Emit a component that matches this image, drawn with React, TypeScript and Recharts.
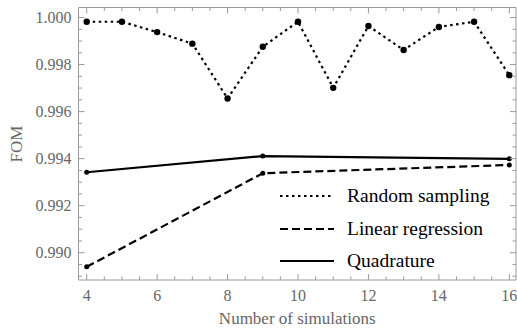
import React from 'react';
import { LineChart, Line, XAxis, YAxis, Legend, Label } from 'recharts';

// number of simulations
const simCounts = [4, 5, 6, 7, 8, 9, 10, 11, 12, 13, 14, 15, 16];
const randomSampling = [0.99982, 0.99982, 0.99938, 0.99889, 0.99656, 0.99876, 0.99982, 0.99701, 0.99964, 0.99862, 0.9996, 0.99982, 0.99755];

const gridCounts = [4, 9, 16];
const linearRegression = [0.9894, 0.99338, 0.99373];
const quadrature = [0.99342, 0.99411, 0.99399];

const xTickLabels = [4, 6, 8, 10, 12, 14, 16];
const yTickLabels = [0.99, 0.992, 0.994, 0.996, 0.998, 1.0];

const X_DOMAIN: [number, number] = [3.767, 16.19];
const Y_DOMAIN: [number, number] = [0.98884, 1.000426];

const xMinor = Array.from({ length: 25 }, (_, i) => 4 + i * 0.5);
const yMinor = Array.from({ length: 23 }, (_, i) => +(0.989 + i * 0.0005).toFixed(4));

const randomData = simCounts.map((x, i) => ({ x, y: randomSampling[i] }));
const linearData = gridCounts.map((x, i) => ({ x, y: linearRegression[i] }));
const quadData = gridCounts.map((x, i) => ({ x, y: quadrature[i] }));

const FRAME = '#9a9a9a';
const TICK_TEXT = '#666';
const FONT = '"Liberation Serif", "Times New Roman", serif';

const isMajor = (v: number, list: number[]) => list.some((m) => Math.abs(m - v) < 1e-7);

const BottomTick = (props: any) => {
  const { x, y, payload } = props;
  const major = isMajor(payload.value, xTickLabels);
  return (
    <g>
      <line x1={x} y1={y} x2={x} y2={y - (major ? 6 : 3.5)} stroke={FRAME} />
      {major && (
        <text x={x} y={y + 21} textAnchor="middle" fill={TICK_TEXT} style={{ fontFamily: FONT, fontSize: 16 }}>
          {payload.value}
        </text>
      )}
    </g>
  );
};

const TopTick = (props: any) => {
  const { x, y, payload } = props;
  const major = isMajor(payload.value, xTickLabels);
  return <line x1={x} y1={y} x2={x} y2={y + (major ? 6 : 3.5)} stroke={FRAME} />;
};

const LeftTick = (props: any) => {
  const { x, y, payload } = props;
  const major = isMajor(payload.value, yTickLabels);
  return (
    <g>
      <line x1={x} y1={y} x2={x + (major ? 6 : 3.5)} y2={y} stroke={FRAME} />
      {major && (
        <text x={x - 7} y={y + 5.5} textAnchor="end" fill={TICK_TEXT} style={{ fontFamily: FONT, fontSize: 16 }}>
          {payload.value.toFixed(3)}
        </text>
      )}
    </g>
  );
};

const RightTick = (props: any) => {
  const { x, y, payload } = props;
  const major = isMajor(payload.value, yTickLabels);
  return <line x1={x} y1={y} x2={x - (major ? 6 : 3.5)} y2={y} stroke={FRAME} />;
};

const legendRows = [
  { name: 'Random sampling', dash: '2.5 3.5' },
  { name: 'Linear regression', dash: '8 4' },
  { name: 'Quadrature', dash: undefined },
];

const renderLegend = () => (
  <div style={{ fontFamily: FONT, fontSize: 19.5, color: '#000' }}>
    {legendRows.map((r) => (
      <div key={r.name} style={{ display: 'flex', alignItems: 'center', height: 32.5 }}>
        <svg width={54} height={10} style={{ marginRight: 13 }}>
          <line x1={0} y1={5} x2={54} y2={5} stroke="#000" strokeWidth={2} strokeDasharray={r.dash} />
        </svg>
        <span>{r.name}</span>
      </div>
    ))}
  </div>
);

export default function App() {
  return (
    <div style={{ position: 'absolute', left: 0, top: 0, width: 517, height: 331, background: '#fff' }}>
      <LineChart width={517} height={331} margin={{ top: 6.5, right: 0, bottom: 50, left: 77.5 }}>
        <XAxis
          dataKey="x"
          type="number"
          domain={X_DOMAIN}
          allowDataOverflow
          ticks={xMinor}
          interval={0}
          height={1}
          tickSize={0}
          tickMargin={0}
          tickLine={false}
          axisLine={{ stroke: FRAME }}
          tick={<BottomTick />}
        >
          <Label
            value="Number of simulations"
            position="bottom"
            offset={31}
            fill={TICK_TEXT}
            style={{ fontFamily: FONT, fontSize: 17 }}
          />
        </XAxis>
        <XAxis
          xAxisId="top"
          orientation="top"
          dataKey="x"
          type="number"
          domain={X_DOMAIN}
          allowDataOverflow
          ticks={xMinor}
          interval={0}
          height={1}
          tickSize={0}
          tickMargin={0}
          tickLine={false}
          axisLine={{ stroke: FRAME }}
          tick={<TopTick />}
        />
        <YAxis
          type="number"
          domain={Y_DOMAIN}
          allowDataOverflow
          ticks={yMinor}
          interval={0}
          width={1}
          tickSize={0}
          tickMargin={0}
          tickLine={false}
          axisLine={{ stroke: FRAME }}
          tick={<LeftTick />}
        >
          <Label
            content={() => (
              <text
                x={16}
                y={144}
                transform="rotate(-90 16 144)"
                textAnchor="middle"
                dominantBaseline="central"
                fill={TICK_TEXT}
                style={{ fontFamily: FONT, fontSize: 17 }}
              >
                FOM
              </text>
            )}
          />
        </YAxis>
        <YAxis
          yAxisId="right"
          orientation="right"
          type="number"
          domain={Y_DOMAIN}
          allowDataOverflow
          ticks={yMinor}
          interval={0}
          width={1}
          tickSize={0}
          tickMargin={0}
          tickLine={false}
          axisLine={{ stroke: FRAME }}
          tick={<RightTick />}
        />
        <Legend
          layout="vertical"
          align="center"
          verticalAlign="middle"
          content={renderLegend}
          wrapperStyle={{ left: 280, top: 180, width: 230 }}
        />
        <Line
          data={randomData}
          dataKey="y"
          name="Random sampling"
          stroke="#000"
          strokeWidth={2.2}
          strokeDasharray="2.5 3.5"
          dot={{ r: 3.2, fill: '#000', stroke: 'none' }}
          isAnimationActive={false}
        />
        <Line
          data={linearData}
          dataKey="y"
          name="Linear regression"
          stroke="#000"
          strokeWidth={2.2}
          strokeDasharray="8 4"
          dot={{ r: 2.5, fill: '#000', stroke: 'none' }}
          isAnimationActive={false}
        />
        <Line
          data={quadData}
          dataKey="y"
          name="Quadrature"
          stroke="#000"
          strokeWidth={2.2}
          dot={{ r: 2.5, fill: '#000', stroke: 'none' }}
          isAnimationActive={false}
        />
      </LineChart>
    </div>
  );
}
